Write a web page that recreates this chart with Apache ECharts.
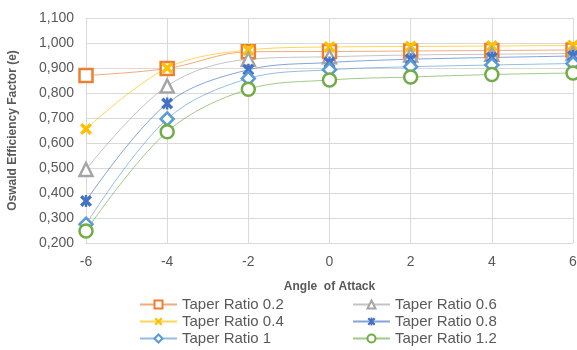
<!DOCTYPE html>
<html>
<head>
<meta charset="utf-8">
<script src="https://cdn.jsdelivr.net/npm/echarts@6/dist/echarts.min.js"></script>
<style>
  html, body { margin: 0; padding: 0; background: #fff; }
  #chart { width: 577px; height: 350px; }
</style>
</head>
<body>
<div id="chart"></div>
<script>
// Angle of attack (degrees)
const angles = [-6, -4, -2, 0, 2, 4, 6];

// Oswald efficiency factor for each taper ratio
const taper02 = [0.870, 0.898, 0.965, 0.966, 0.968, 0.970, 0.972];
const taper04 = [0.656, 0.900, 0.972, 0.984, 0.986, 0.988, 0.990];
const taper06 = [0.494, 0.828, 0.935, 0.945, 0.952, 0.955, 0.958];
const taper08 = [0.368, 0.758, 0.893, 0.922, 0.935, 0.942, 0.948];
const taper10 = [0.275, 0.696, 0.858, 0.893, 0.905, 0.912, 0.918];
const taper12 = [0.248, 0.645, 0.815, 0.852, 0.864, 0.874, 0.880];

const seriesNames = ['Taper Ratio 0.2', 'Taper Ratio 0.4', 'Taper Ratio 0.6',
                     'Taper Ratio 0.8', 'Taper Ratio 1', 'Taper Ratio 1.2'];

const CROSS = 'path://M0,2 L2,0 L5,3 L8,0 L10,2 L7,5 L10,8 L8,10 L5,7 L2,10 L0,8 L3,5 Z';
const STAR = 'path://M0,2 L2,0 L4,2 L4,0 L6,0 L6,2 L8,0 L10,2 L7,5 L10,8 L8,10 L6,8 L6,10 L4,10 L4,8 L2,10 L0,8 L3,5 Z';

function pairs(vals) {
  return angles.map((a, i) => [a, vals[i]]);
}

function makeSeries(name, vals, color, symbol, size, hollow) {
  return {
    name: name,
    type: 'line',
    smooth: 0.35,
    data: pairs(vals),
    symbol: symbol,
    symbolSize: size,
    showAllSymbol: true,
    lineStyle: { color: color, width: 1, opacity: 0.65 },
    itemStyle: hollow
      ? { color: '#ffffff', borderColor: color, borderWidth: 2.5 }
      : { color: color, borderWidth: 0 },
    emphasis: { disabled: true },
    z: 2
  };
}

const textColor = '#595959';
const font = 'Liberation Sans, Arial, sans-serif';

// Legend laid out in two columns of three rows
const legendSlots = [
  [0, 139, 297], [1, 139, 314], [4, 139, 331],
  [2, 352, 297], [3, 352, 314], [5, 352, 331]
];
const legends = legendSlots.map(([idx, left, top]) => ({
  data: [seriesNames[idx]],
  left: left, top: top,
  padding: 0,
  itemWidth: 37, itemHeight: 10,
  textStyle: { color: textColor, fontSize: 15, fontFamily: font }
}));

const chart = echarts.init(document.getElementById('chart'), null, { renderer: 'canvas' });

chart.setOption({
  animation: false,
  backgroundColor: '#ffffff',
  grid: { left: 86, right: 4, top: 18, bottom: 107, outerBoundsMode: 'none', containLabel: false },
  xAxis: {
    type: 'value',
    min: -6, max: 6, interval: 2,
    name: 'Angle  of Attack',
    nameLocation: 'middle',
    nameGap: 38,
    nameTextStyle: { color: textColor, fontSize: 12, fontWeight: 'bold', fontFamily: font },
    axisLine: { show: true, lineStyle: { color: '#d9d9d9' } },
    axisTick: { show: false },
    axisLabel: { color: textColor, fontSize: 14, fontFamily: font, margin: 12 },
    splitLine: { show: true, lineStyle: { color: '#d9d9d9' } }
  },
  yAxis: {
    type: 'value',
    min: 0.2, max: 1.1, interval: 0.1,
    name: 'Oswald Efficiency Factor (e)',
    nameLocation: 'middle',
    nameGap: 67,
    nameTextStyle: { color: textColor, fontSize: 12, fontWeight: 'bold', fontFamily: font },
    axisLine: { show: false },
    axisTick: { show: false },
    axisLabel: {
      color: textColor, fontSize: 14, fontFamily: font, margin: 12,
      formatter: v => v.toFixed(3).replace('.', ',')
    },
    splitLine: { show: true, lineStyle: { color: '#d9d9d9' } }
  },
  legend: legends,
  series: [
    makeSeries(seriesNames[0], taper02, '#ED7D31', 'rect', 13, true),
    makeSeries(seriesNames[1], taper04, '#FFC000', CROSS, 12, false),
    makeSeries(seriesNames[2], taper06, '#A5A5A5', 'triangle', 13, true),
    makeSeries(seriesNames[3], taper08, '#4472C4', STAR, 12, false),
    makeSeries(seriesNames[4], taper10, '#5B9BD5', 'diamond', 13, true),
    makeSeries(seriesNames[5], taper12, '#70AD47', 'circle', 13, true)
  ]
});
</script>
</body>
</html>
